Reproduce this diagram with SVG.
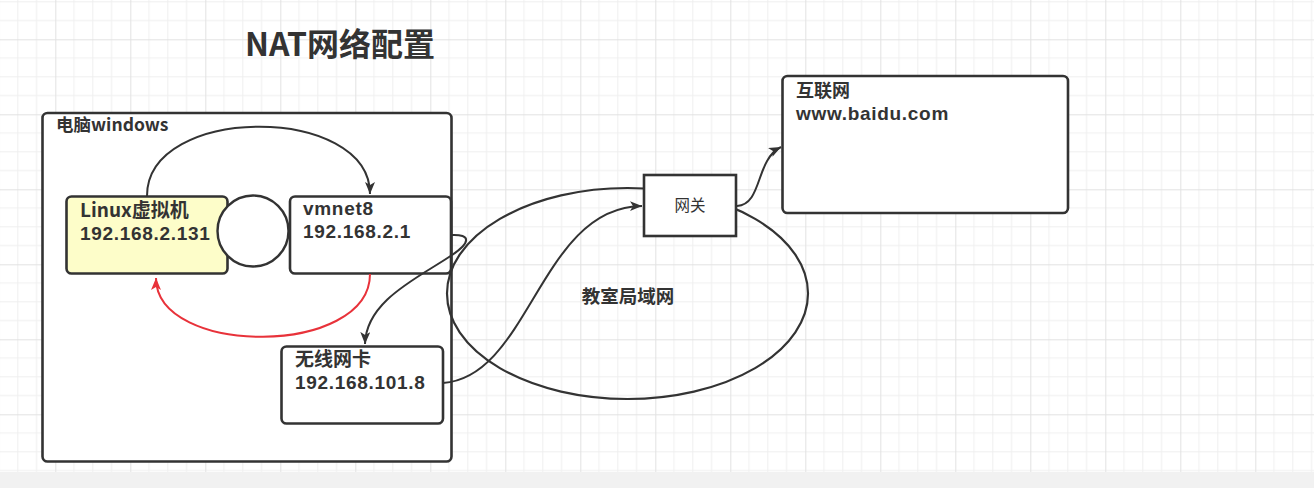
<svg xmlns="http://www.w3.org/2000/svg" width="1314" height="488" viewBox="0 0 1314 488">
<defs>
<pattern id="grid" patternUnits="userSpaceOnUse" x="55.3" y="39.3" width="75" height="75">
<path d="M18.75 0V75M37.5 0V75M56.25 0V75M0 18.75H75M0 37.5H75M0 56.25H75" stroke="#efefef" stroke-width="1" fill="none"/>
<path d="M0.5 0V75M0 0.5H75" stroke="#e2e2e2" stroke-width="1" fill="none"/>
</pattern>
<marker id="arr" markerUnits="userSpaceOnUse" markerWidth="14" markerHeight="12" refX="12" refY="5" orient="auto">
<path d="M0,0 L12,5 L0,10 L3,5 Z" fill="#333"/>
</marker>
<marker id="arrRed" markerUnits="userSpaceOnUse" markerWidth="14" markerHeight="12" refX="12" refY="5" orient="auto">
<path d="M0,0 L12,5 L0,10 L3,5 Z" fill="#e8323a"/>
</marker>
</defs>
<style>
.box{fill:#fff;stroke:#333;stroke-width:2.6}
.lbl{font-family:"Noto Sans CJK SC","Noto Sans",sans-serif;font-weight:bold;fill:#333}
.lat{font-family:"Liberation Sans",Arial,sans-serif;font-weight:bold;fill:#333;font-size:19px;letter-spacing:0.7px}
.conn{fill:none;stroke:#333;stroke-width:2}
</style>
<rect x="0" y="0" width="1314" height="488" fill="#fff"/>
<rect x="0" y="0" width="1314" height="472" fill="url(#grid)"/>
<rect x="0" y="472" width="1314" height="16" fill="#f1f1f1"/>

<text class="lbl" x="245" y="56" font-size="32">NAT网络配置</text>

<g id="pc">
<rect class="box" x="42.5" y="113" width="409" height="348.5" rx="5"/>
<text class="lbl" x="56" y="131" font-size="17.5">电脑windows</text>
</g>

<g id="linux">
<rect class="box" x="66.5" y="196.5" width="161" height="77" rx="5" style="fill:#fdfdc9"/>
<text class="lbl" x="80" y="217" font-size="19">Linux虚拟机</text>
<text class="lat" x="80" y="240">192.168.2.131</text>
</g>

<g id="circle">
<circle cx="253" cy="231" r="35.5" fill="#fff" stroke="#333" stroke-width="2.4"/>
</g>

<g id="vmnet8">
<rect class="box" x="290" y="196.5" width="161" height="77" rx="5"/>
<text class="lat" x="303" y="215" letter-spacing="0.3">vmnet8</text>
<text class="lat" x="303" y="238">192.168.2.1</text>
</g>

<g id="nic">
<rect class="box" x="281.5" y="346.5" width="161.5" height="77" rx="5"/>
<text class="lbl" x="295" y="366" font-size="19">无线网卡</text>
<text class="lat" x="295" y="389">192.168.101.8</text>
</g>

<g id="lan">
<ellipse cx="627.5" cy="293.5" rx="180.5" ry="105.5" fill="none" stroke="#333" stroke-width="2.2"/>
<text class="lbl" x="628" y="303" font-size="18.5" text-anchor="middle">教室局域网</text>
</g>

<g id="gateway">
<rect x="644" y="175" width="92" height="61" fill="#fff" stroke="#333" stroke-width="2.6"/>
<text x="690" y="211" font-size="15.5" text-anchor="middle" font-family="'Noto Sans CJK SC',sans-serif" fill="#333">网关</text>
</g>

<g id="internet">
<rect class="box" x="782.5" y="76" width="285.5" height="137" rx="5"/>
<text class="lbl" x="796" y="97" font-size="18">互联网</text>
<text class="lat" x="796" y="120" letter-spacing="0.5">www.baidu.com</text>
</g>

<g id="connectors">
<path class="conn" d="M147,196 C147,104 370,104 370,194" marker-end="url(#arr)"/>
<path class="conn" d="M370,274 C370,357 156,357 156,278" stroke="#e8323a" style="stroke:#e8323a" marker-end="url(#arrRed)"/>
<path class="conn" d="M451,235 C472,234 470,243 452,255 C420,277 366,300 365,344" marker-end="url(#arr)"/>
<path class="conn" d="M443,383 C530,377 540,207 642,206" marker-end="url(#arr)"/>
<path class="conn" d="M737,206 C763,204 755,160 781,147" marker-end="url(#arr)"/>
</g>
</svg>
